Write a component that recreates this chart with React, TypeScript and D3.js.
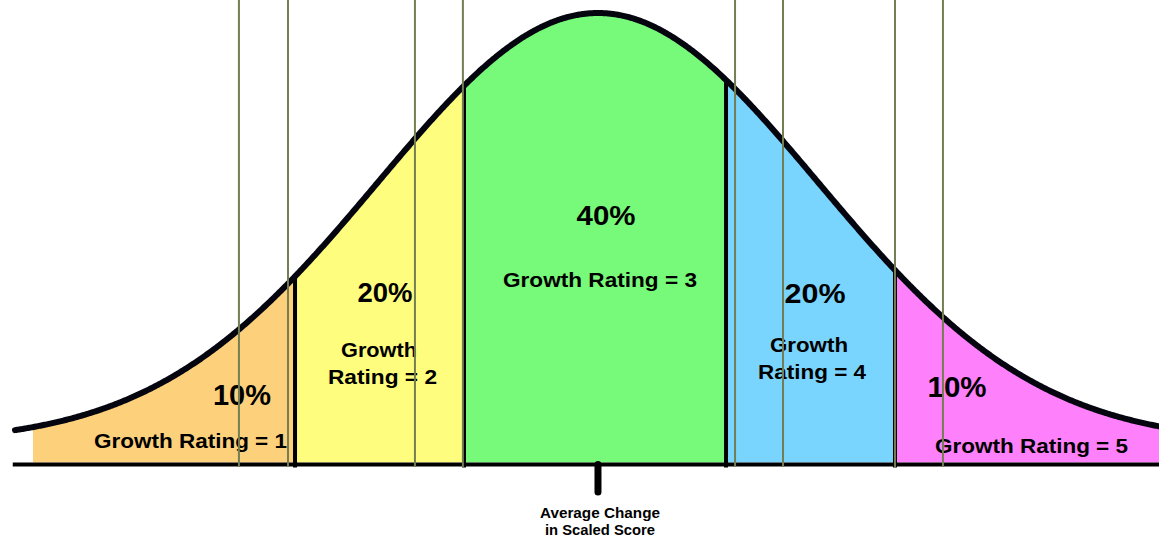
import React from 'react';
import * as d3 from 'd3';

// ---- data (z-score units of a standard normal distribution) ----
const ratings = ['Growth Rating = 1', 'Growth Rating = 2', 'Growth Rating = 3', 'Growth Rating = 4', 'Growth Rating = 5'];
const percents = ['10%', '20%', '40%', '20%', '10%'];
const cutPoints = [-1.377, -0.609, 0.582, 1.35];
const fillExtent = [-2.568, 2.55];
const curveExtent = [-2.65, 2.55];
const axisExtent = [-2.66, 2.55];
const guideLines = [-1.632, -1.409, -0.832, -0.614, 0.623, 0.841, 1.35, 1.568];
const meanZ = 0;
const axisLabel = ['Average Change', 'in Scaled Score'];
const bandColors = ['#fdd17c', '#fffd7e', '#77f979', '#79d5fd', '#fe81fb'];

const W = 1159;
const H = 542;

const pdf = (z: number) => Math.exp(-(z * z) / 2) / Math.sqrt(2 * Math.PI);

const x = d3.scaleLinear().domain([-2.718, 2.55]).range([0, W]);
const y = d3.scaleLinear().domain([0, pdf(0)]).range([443, 13]);
const baseDensity = -0.0181; // baseline sits a little below the curve's asymptote
const tickDensity = -0.0455;

function samples(lo: number, hi: number) {
  const pts = d3.range(lo, hi, 0.005);
  pts.push(hi);
  return pts;
}

// label layout (pixel positions)
const pctLayout = [
  { x: 242, y: 405, size: 29, w: 58 },
  { x: 385, y: 302, size: 28, w: 55 },
  { x: 606, y: 225, size: 28, w: 59 },
  { x: 815, y: 303, size: 28, w: 61 },
  { x: 957, y: 397, size: 29, w: 59 },
];
const ratingLayout: { lines: { x: number; y: number; w: number }[]; size: number }[] = [
  { lines: [{ x: 190.5, y: 448, w: 193 }], size: 21 },
  { lines: [{ x: 379, y: 357, w: 76 }, { x: 382.5, y: 384, w: 109 }], size: 21 },
  { lines: [{ x: 600, y: 287, w: 194 }], size: 21 },
  { lines: [{ x: 809, y: 352, w: 78 }, { x: 812, y: 379, w: 108 }], size: 21 },
  { lines: [{ x: 1031.5, y: 453, w: 193 }], size: 21 },
];

export default function App() {
  const bounds = [fillExtent[0], ...cutPoints, fillExtent[1]];
  const area = d3
    .area<number>()
    .x((d) => x(d))
    .y0(() => y(baseDensity))
    .y1((d) => y(pdf(d)));
  const line = d3
    .line<number>()
    .x((d) => x(d))
    .y((d) => y(pdf(d)))
    .curve(d3.curveLinear);

  const font = '"Liberation Sans", Arial, Helvetica, sans-serif';

  return (
    <svg
      width={W}
      height={H}
      viewBox={`0 0 ${W} ${H}`}
      style={{ position: 'absolute', left: 0, top: 0, background: '#ffffff' }}
    >
      <rect x={0} y={0} width={W} height={H} fill="#ffffff" />
      {bandColors.map((c, i) => (
        <path key={'band' + i} d={area(samples(bounds[i], bounds[i + 1])) || ''} fill={c} />
      ))}
      {/* baseline */}
      <line
        x1={x(axisExtent[0])}
        x2={x(axisExtent[1])}
        y1={y(baseDensity) + 2}
        y2={y(baseDensity) + 2}
        stroke="#000"
        strokeWidth={4}
      />
      {/* dividers */}
      {cutPoints.map((c, i) => (
        <line
          key={'cut' + i}
          x1={x(c)}
          x2={x(c)}
          y1={y(pdf(c))}
          y2={y(baseDensity) + 5}
          stroke="#000"
          strokeWidth={4}
        />
      ))}
      {/* mean tick */}
      <line
        x1={x(meanZ)}
        x2={x(meanZ)}
        y1={y(baseDensity) + 2}
        y2={y(tickDensity)}
        stroke="#000"
        strokeWidth={7}
        strokeLinecap="round"
      />
      {/* curve */}
      <path
        d={line(samples(curveExtent[0], curveExtent[1])) || ''}
        fill="none"
        stroke="#05050f"
        strokeWidth={6}
        strokeLinecap="round"
        strokeLinejoin="round"
      />
      {/* labels */}
      <g fontFamily={font} fontWeight="bold" fill="#000" textAnchor="middle">
        {percents.map((p, i) => (
          <text
            key={'p' + i}
            x={pctLayout[i].x}
            y={pctLayout[i].y}
            fontSize={pctLayout[i].size}
            textLength={pctLayout[i].w}
            lengthAdjust="spacingAndGlyphs"
          >
            {p}
          </text>
        ))}
        {ratings.map((r, i) => {
          const lay = ratingLayout[i];
          const parts = lay.lines.length === 2 ? ['Growth', r.replace('Growth ', '')] : [r];
          return parts.map((t, j) => (
            <text
              key={'r' + i + '-' + j}
              x={lay.lines[j].x}
              y={lay.lines[j].y}
              fontSize={lay.size}
              textLength={lay.lines[j].w}
              lengthAdjust="spacingAndGlyphs"
            >
              {t}
            </text>
          ));
        })}
        <text x={x(meanZ) + 2} y={518} fontSize={14} textLength={120} lengthAdjust="spacingAndGlyphs">
          {axisLabel[0]}
        </text>
        <text x={x(meanZ) + 2} y={535} fontSize={14} textLength={110} lengthAdjust="spacingAndGlyphs">
          {axisLabel[1]}
        </text>
      </g>
      {/* olive guide lines */}
      {guideLines.map((g, i) => (
        <line key={'g' + i} x1={x(g)} x2={x(g)} y1={0} y2={467} stroke="#737e53" strokeWidth={2} />
      ))}
    </svg>
  );
}
